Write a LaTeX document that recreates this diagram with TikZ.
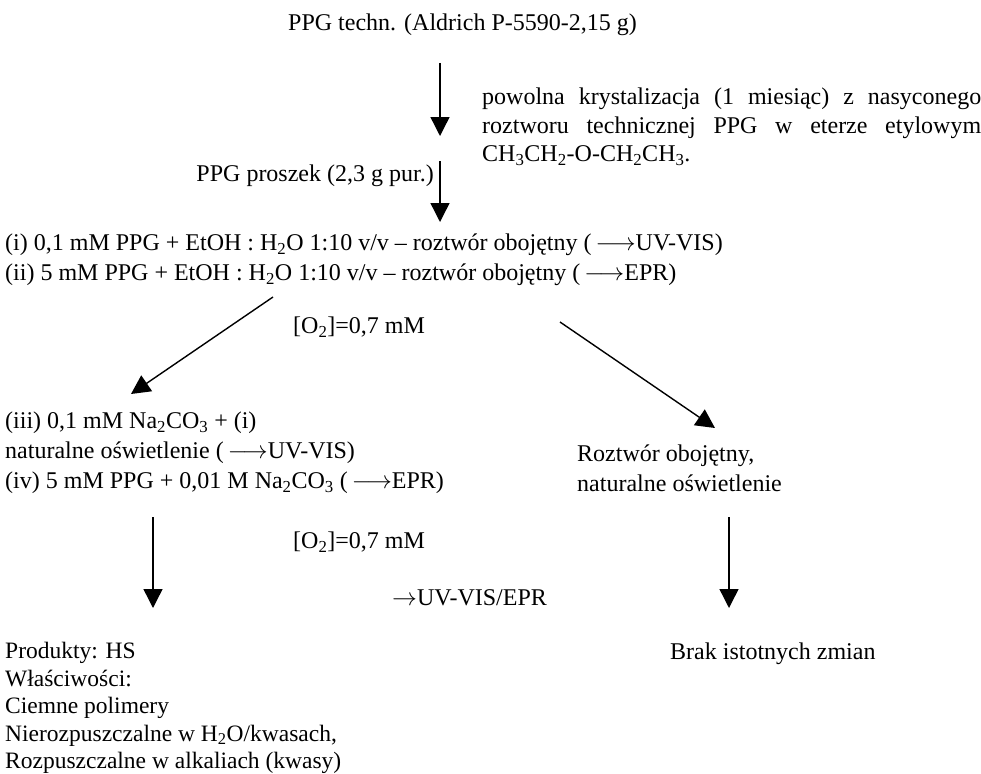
\documentclass[tikz,border=0pt]{standalone}
\usepackage{fontspec}
\setmainfont{Liberation Serif}
\usetikzlibrary{arrows.meta}
\tikzset{
    flow/.style={line width=1.4pt,draw=black,-{Triangle[width=19pt,length=19pt]}},
    txt/.style={font=\fontsize{24}{30}\selectfont,inner sep=0pt,align=left},
    list/.style={txt,font=\fontsize{23.5}{27.5}\selectfont},
}
\newcommand{\lsub}[1]{\textsubscript{#1}}
\newcommand{\parline}[1]{\makebox[499pt][s]{#1}}

\begin{document}
\begin{tikzpicture}[x=1pt,y=-1pt]
\useasboundingbox (0,0) rectangle (981,773);

\node[txt,anchor=west] (techn) at (288,25) {PPG techn. (Aldrich P-5590-2,15 g)};
\node[txt,anchor=west,font=\fontsize{24}{28.5}\selectfont] (kryst) at (482,127) {\parline{powolna krystalizacja (1 miesiąc) z nasyconego}\\
    \parline{roztworu technicznej PPG w eterze etylowym}\\
    CH\lsub{3}CH\lsub{2}-O-CH\lsub{2}CH\lsub{3}.};
\node[txt,anchor=east] (proszek) at (434,176) {PPG proszek (2,3 g pur.)};

\node[txt,anchor=west] (roztwor) at (5,260) {(i) 0,1 mM PPG + EtOH : H\lsub{2}O 1:10 v/v – roztwór obojętny (\,$\longrightarrow$UV-VIS)\\
    (ii) 5 mM PPG + EtOH : H\lsub{2}O 1:10 v/v – roztwór obojętny (\,$\longrightarrow$EPR)};
\node[txt,anchor=west] (tlen1) at (293,327) {[O\lsub{2}]=0,7 mM};

\node[txt,anchor=west] (weglan) at (5,453) {(iii) 0,1 mM Na\lsub{2}CO\lsub{3} + (i)\\
    naturalne oświetlenie (\,$\longrightarrow$UV-VIS)\\
    (iv) 5 mM PPG + 0,01 M Na\lsub{2}CO\lsub{3} (\,$\longrightarrow$EPR)};
\node[txt,anchor=west] (obojetny) at (577,468) {Roztwór obojętny,\\ naturalne oświetlenie};

\node[txt,anchor=west] (tlen2) at (293,542) {[O\lsub{2}]=0,7 mM};
\node[txt,anchor=west] (pomiar) at (392,598) {$\rightarrow$UV-VIS/EPR};

\node[list,anchor=west] (produkty) at (5,708) {Produkty: HS\\ Właściwości:\\ Ciemne polimery\\
    Nierozpuszczalne w H\lsub{2}O/kwasach,\\ Rozpuszczalne w alkaliach (kwasy)};
\node[txt,anchor=west] (brak) at (670,654) {Brak istotnych zmian};

\coordinate (k1) at (440,63);
\coordinate (k2) at (440,136);
\coordinate (p1) at (440,161);
\coordinate (p2) at (440,222);
\coordinate (l1) at (273,297);
\coordinate (l2) at (131,394);
\coordinate (r1) at (560,322);
\coordinate (r2) at (715,428);
\coordinate (d1) at (153,517);
\coordinate (d2) at (153,608);
\coordinate (e1) at (729,517);
\coordinate (e2) at (729,608);

\draw[flow] (k1) -- (k2);
\draw[flow] (p1) -- (p2);
\draw[flow] (l1) -- (l2);
\draw[flow] (r1) -- (r2);
\draw[flow] (d1) -- (d2);
\draw[flow] (e1) -- (e2);
\end{tikzpicture}
\end{document}
